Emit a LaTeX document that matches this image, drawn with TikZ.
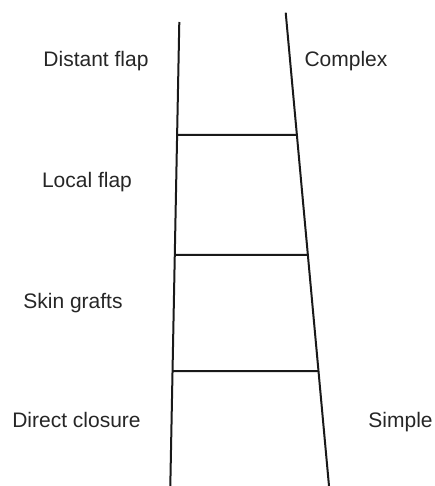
\documentclass[tikz,border=0pt]{standalone}
\usepackage{fontspec}
\setmainfont{Liberation Sans}
\begin{document}
\begin{tikzpicture}[x=1pt,y=-1pt,
  rail/.style={line width=2pt,black!90},
  lbl/.style={anchor=base,inner sep=0pt,font=\fontsize{21}{25}\selectfont,text=black!85}]
\useasboundingbox (0,0) rectangle (435,486);
% rails
\coordinate (LT) at (179.3,22);
\coordinate (LB) at (170.3,486);
\coordinate (RT) at (285.7,12.7);
\coordinate (RB) at (329,486);
\draw[rail] (LT) -- (LB);
\draw[rail] (RT) -- (RB);
% rungs
\path (LT) -- (LB) coordinate[pos={(135-22)/464}] (a1)
                   coordinate[pos={(255-22)/464}] (a2)
                   coordinate[pos={(371-22)/464}] (a3);
\path (RT) -- (RB) coordinate[pos={(135-12.7)/473.3}] (b1)
                   coordinate[pos={(255-12.7)/473.3}] (b2)
                   coordinate[pos={(371-12.7)/473.3}] (b3);
\draw[rail] (a1) -- (b1);
\draw[rail] (a2) -- (b2);
\draw[rail] (a3) -- (b3);
% labels
\node[lbl] (distant) at (96,67) {Distant flap};
\node[lbl] (complex) at (346,67) {Complex};
\node[lbl] (local) at (87,187) {Local flap};
\node[lbl] (skin) at (73,308) {Skin grafts};
\node[lbl] (direct) at (76.5,427) {Direct closure};
\node[lbl] (simple) at (400.5,427) {Simple};
\end{tikzpicture}
\end{document}
